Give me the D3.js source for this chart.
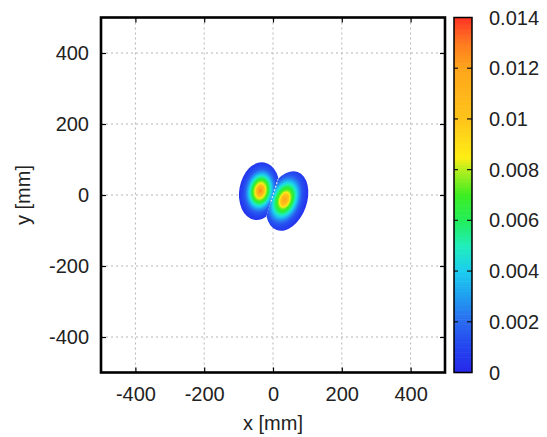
<!DOCTYPE html>
<html>
<head>
<meta charset="utf-8">
<script src="https://cdn.jsdelivr.net/npm/d3@7"></script>
<style>
  html, body { margin: 0; padding: 0; background: #fff; }
  svg { display: block; font-family: "Liberation Sans", Arial, sans-serif; }
</style>
</head>
<body>
<div id="chart"></div>
<script>
// DATA (mm)
// the field is two tilted elliptical lobes split by a thin gap through the origin
const lobeCenterX = [-40, 41];
const lobeCenterY = [11, -17];
const lobeSemiMinor = [58, 57];
const lobeSemiMajor = [82, 87];
const lobeTilt = [10, 20];          // degrees, top leaning right
const lobePeakX = [-37, 34];
const lobePeakY = [12, -13];
const lobePeak = [0.013, 0.012];
const lobeSide = [-1, 1];           // which side of the gap

// radial profile: value / peak against distance from the peak (0 = peak, 1 = rim)
const profileR = [0, 0.15, 0.25, 0.38, 0.5, 0.6, 0.72, 0.88, 1.0];
const profileV = [1, 0.85, 0.65, 0.5, 0.35, 0.23, 0.12, 0.06, 0.03];

const gapAngle = 72;                // degrees from the x axis
const gapSpan = [-18, 44];          // visible part of the gap, y in mm

const xTicks = [-400, -200, 0, 200, 400];
const yTicks = [-400, -200, 0, 200, 400];
const cTicks = [0, 0.002, 0.004, 0.006, 0.008, 0.01, 0.012, 0.014];
const cTickLabels = ["0", "0.002", "0.004", "0.006", "0.008", "0.01", "0.012", "0.014"];

// palette stops (value -> colour)
const paletteStops = [0, 0.001, 0.002, 0.003, 0.004, 0.005, 0.006, 0.007, 0.008, 0.0085, 0.01, 0.012, 0.013, 0.014];
const paletteColors = ["#2626ea", "#2444f0", "#2a6af0", "#209ef0", "#1ccdf0", "#20eebc", "#22ee5a", "#3cee22", "#b4ee1e", "#ffee14", "#ffc41a", "#ffa61a", "#ff7a20", "#ff3424"];

// LAYOUT
const W = 547, H = 437;
const plot = { left: 101, right: 445, top: 17.5, bottom: 372.5 };
const bar = { left: 454, right: 472 };
const fontSize = '20px';

const svg = d3.select('#chart').append('svg')
    .attr('width', W)
    .attr('height', H);
const defs = svg.append('defs');

const x = d3.scaleLinear().domain([-500, 500]).range([plot.left, plot.right]);
const y = d3.scaleLinear().domain([-500, 500]).range([plot.bottom, plot.top]);
const color = d3.scaleLinear().domain(paletteStops).range(paletteColors).clamp(true);
const cScale = d3.scaleLinear().domain([0, 0.014]).range([plot.bottom, plot.top]);
const profile = d3.scaleLinear().domain(profileR).range(profileV).clamp(true);

// grid lines
const grid = svg.append('g').attr('class', 'grid');
grid.selectAll('line.gx').data(xTicks).enter().append('line')
    .attr('x1', d => x(d)).attr('x2', d => x(d))
    .attr('y1', plot.top).attr('y2', plot.bottom);
grid.selectAll('line.gy').data(yTicks).enter().append('line')
    .attr('y1', d => y(d)).attr('y2', d => y(d))
    .attr('x1', plot.left).attr('x2', plot.right);
grid.selectAll('line')
    .attr('stroke', '#b4b4b4')
    .attr('stroke-width', 1)
    .attr('stroke-dasharray', '2,3');

// half planes on each side of the gap
const ga = gapAngle * Math.PI / 180;
const L = 400;
lobeSide.forEach((s, i) => {
    const p1 = [L * Math.cos(ga), L * Math.sin(ga)];
    const p2 = [-p1[0], -p1[1]];
    const pts = [p1, p2, [p2[0] + s * L, p2[1]], [p1[0] + s * L, p1[1]]];
    defs.append('clipPath').attr('id', 'side' + i)
        .append('polygon')
        .attr('points', pts.map(p => x(p[0]) + ',' + y(p[1])).join(' '));
});

// lobes
const field = svg.append('g').attr('class', 'field');
lobeCenterX.forEach((cxmm, i) => {
    const px = x(cxmm), py = y(lobeCenterY[i]);
    const a = x(lobeSemiMinor[i]) - x(0);
    const b = y(0) - y(lobeSemiMajor[i]);
    const th = lobeTilt[i] * Math.PI / 180;
    // peak position in the lobe's own frame
    const dx = x(lobePeakX[i]) - px, dy = y(lobePeakY[i]) - py;
    const lx = dx * Math.cos(th) + dy * Math.sin(th);
    const ly = -dx * Math.sin(th) + dy * Math.cos(th);
    const fx = lx / (2 * a), fy = ly / (2 * b);
    const r = 0.5 + Math.sqrt(fx * fx + fy * fy);

    const grad = defs.append('radialGradient')
        .attr('id', 'lobe' + i)
        .attr('cx', 0.5 + fx).attr('cy', 0.5 + fy)
        .attr('fx', 0.5 + fx).attr('fy', 0.5 + fy)
        .attr('r', r);
    grad.selectAll('stop')
        .data(d3.range(0, 1.0001, 0.02))
        .enter().append('stop')
        .attr('offset', t => t)
        .attr('stop-color', t => color(lobePeak[i] * profile(t)));

    field.append('g')
        .attr('clip-path', `url(#side${i})`)
        .append('ellipse')
        .attr('transform', `translate(${px},${py}) rotate(${lobeTilt[i]})`)
        .attr('rx', a)
        .attr('ry', b)
        .attr('fill', `url(#lobe${i})`);
});

// the thin gap between the lobes
const gapPts = gapSpan.map(v => [v / Math.tan(ga), v]);
field.append('line')
    .attr('x1', x(gapPts[0][0])).attr('y1', y(gapPts[0][1]))
    .attr('x2', x(gapPts[1][0])).attr('y2', y(gapPts[1][1]))
    .attr('stroke', '#fff')
    .attr('stroke-width', 1.4)
    .attr('stroke-dasharray', '1.5,2.2')
    .attr('opacity', 0.85);

// axes (inward ticks)
const fmt = d => String(d);
const axisBottom = d3.axisBottom(x).tickValues(xTicks).tickSize(-5).tickSizeOuter(0).tickPadding(14).tickFormat(fmt);
const axisTop = d3.axisTop(x).tickValues(xTicks).tickSize(-5).tickSizeOuter(0).tickFormat('');
const axisLeft = d3.axisLeft(y).tickValues(yTicks).tickSize(-5).tickSizeOuter(0).tickPadding(12).tickFormat(fmt);
const axisRight = d3.axisRight(y).tickValues(yTicks).tickSize(-5).tickSizeOuter(0).tickFormat('');

svg.append('g').attr('transform', `translate(0,${plot.bottom})`).call(axisBottom);
svg.append('g').attr('transform', `translate(0,${plot.top})`).call(axisTop);
svg.append('g').attr('transform', `translate(${plot.left},0)`).call(axisLeft);
svg.append('g').attr('transform', `translate(${plot.right},0)`).call(axisRight);

svg.selectAll('.domain').remove();
svg.selectAll('.tick line').attr('stroke', '#000').attr('stroke-width', 1.2);
svg.selectAll('.tick text')
    .style('font-size', fontSize)
    .attr('fill', '#222');

// frame
svg.append('rect')
    .attr('x', plot.left).attr('y', plot.top)
    .attr('width', plot.right - plot.left).attr('height', plot.bottom - plot.top)
    .attr('fill', 'none')
    .attr('stroke', '#000')
    .attr('stroke-width', 2.6);

// axis titles
svg.append('text')
    .attr('x', x(0)).attr('y', 430)
    .attr('text-anchor', 'middle')
    .style('font-size', fontSize)
    .attr('fill', '#222')
    .text('x [mm]');

svg.append('text')
    .attr('transform', `translate(30,${y(0)}) rotate(-90)`)
    .attr('text-anchor', 'middle')
    .style('font-size', fontSize)
    .attr('fill', '#222')
    .text('y [mm]');

// colour bar
const cb = svg.append('g').attr('class', 'colorbar');
const cSteps = d3.range(0, 0.014, 0.0001);
cb.selectAll('rect.c').data(cSteps).enter().append('rect')
    .attr('x', bar.left)
    .attr('width', bar.right - bar.left)
    .attr('y', d => cScale(d + 0.0001))
    .attr('height', d => cScale(d) - cScale(d + 0.0001) + 0.6)
    .attr('fill', d => color(d + 0.00005));

cb.selectAll('line.tl').data(cTicks.slice(1, -1)).enter().append('line')
    .attr('x1', bar.left).attr('x2', bar.left + 4)
    .attr('y1', d => cScale(d)).attr('y2', d => cScale(d));
cb.selectAll('line.tr').data(cTicks.slice(1, -1)).enter().append('line')
    .attr('x1', bar.right - 5).attr('x2', bar.right)
    .attr('y1', d => cScale(d)).attr('y2', d => cScale(d));
cb.selectAll('line').attr('stroke', '#111').attr('stroke-width', 1.2);

cb.append('rect')
    .attr('x', bar.left).attr('y', plot.top)
    .attr('width', bar.right - bar.left).attr('height', plot.bottom - plot.top)
    .attr('fill', 'none')
    .attr('stroke', '#000')
    .attr('stroke-width', 1.5);

cb.selectAll('text').data(cTicks).enter().append('text')
    .attr('x', 489)
    .attr('y', d => cScale(d))
    .attr('dy', '0.35em')
    .style('font-size', fontSize)
    .attr('fill', '#222')
    .text((d, i) => cTickLabels[i]);
</script>
</body>
</html>
